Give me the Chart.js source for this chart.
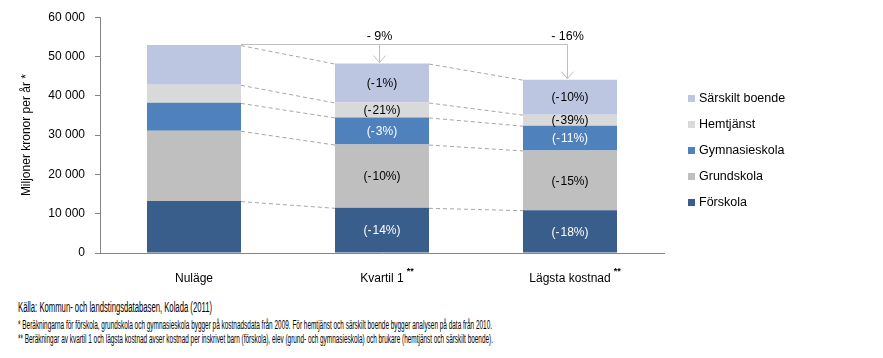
<!DOCTYPE html>
<html>
<head>
<meta charset="utf-8">
<script src="https://cdn.jsdelivr.net/npm/chart.js@4/dist/chart.umd.min.js"></script>
<style>
  html, body { margin: 0; padding: 0; background: #fff; }
  body { width: 883px; height: 358px; position: relative; overflow: hidden; font-family: "Liberation Sans", Arial, sans-serif; }
  #wrap { position: absolute; left: 0; top: 0; width: 883px; height: 292px; }
  .foot { position: absolute; left: 18px; white-space: nowrap; transform-origin: 0 50%; color: #000; line-height: 1; }
  #f1 { top: 300px; font-size: 14px; }
  #f2 { top: 319px; font-size: 12.5px; }
  #f3 { top: 333px; font-size: 12.5px; }
</style>
</head>
<body>
<div id="wrap"><canvas id="c" width="883" height="292"></canvas></div>
<div class="foot" id="f1">Källa: Kommun- och landstingsdatabasen, Kolada (2011)</div>
<div class="foot" id="f2">* Beräkningarna för förskola, grundskola och gymnasieskola  bygger på kostnadsdata från 2009. För hemtjänst och särskilt boende bygger  analysen på data från 2010.</div>
<div class="foot" id="f3">** Beräkningar av kvartil 1 och lägsta kostnad avser kostnad per inskrivet barn (förskola), elev (grund- och gymnasieskola)  och brukare (hemtjänst och särskilt boende).</div>
<script>
const categories = ['Nuläge', 'Kvartil 1', 'Lägsta kostnad'];
const categorySuffix = ['', '**', '**'];
const yTicks = [0, 10000, 20000, 30000, 40000, 50000, 60000];

const forskola = [13200, 11500, 10900];
const grundskola = [17900, 16100, 15200];
const gymnasieskola = [7100, 6900, 6300];
const hemtjanst = [4600, 3800, 2800];
const sarskiltBoende = [10100, 9900, 8900];

const forskolaLabels = ['', '(-14%)', '(-18%)'];
const grundskolaLabels = ['', '(-10%)', '(-15%)'];
const gymnasieskolaLabels = ['', '(-3%)', '(-11%)'];
const hemtjanstLabels = ['', '(-21%)', '(-39%)'];
const sarskiltLabels = ['', '(-1%)', '(-10%)'];
const totalChangeLabels = ['', '- 9%', '- 16%'];

const FONT = '"Liberation Sans", Arial, sans-serif';

const datasets = [
  { label: 'Förskola', data: forskola, backgroundColor: '#3A5E8C', segLabels: forskolaLabels, textColor: '#FFFFFF' },
  { label: 'Grundskola', data: grundskola, backgroundColor: '#BFBFBF', segLabels: grundskolaLabels, textColor: '#000000' },
  { label: 'Gymnasieskola', data: gymnasieskola, backgroundColor: '#4F81BD', segLabels: gymnasieskolaLabels, textColor: '#FFFFFF' },
  { label: 'Hemtjänst', data: hemtjanst, backgroundColor: '#D9D9D9', segLabels: hemtjanstLabels, textColor: '#000000' },
  { label: 'Särskilt boende', data: sarskiltBoende, backgroundColor: '#BCC6E0', segLabels: sarskiltLabels, textColor: '#000000' }
];

const fmt = v => String(v).replace(/\B(?=(\d{3})+(?!\d))/g, ' ');

const overlay = {
  id: 'overlay',
  beforeDatasetsDraw(chart) {
    const ctx = chart.ctx;
    const metas = chart.data.datasets.map((d, i) => chart.getDatasetMeta(i));
    ctx.save();
    ctx.strokeStyle = '#A6A6A6';
    ctx.lineWidth = 1;
    ctx.setLineDash([4, 3]);
    metas.forEach(meta => {
      for (let j = 0; j < meta.data.length - 1; j++) {
        const a = meta.data[j], b = meta.data[j + 1];
        ctx.beginPath();
        ctx.moveTo(a.x + a.width / 2, a.y + 0.5);
        ctx.lineTo(b.x - b.width / 2, b.y + 0.5);
        ctx.stroke();
      }
    });
    ctx.restore();
  },
  afterDatasetsDraw(chart) {
    const ctx = chart.ctx;
    const ds = chart.data.datasets;
    ctx.save();
    ctx.font = '12px ' + FONT;
    ctx.textAlign = 'center';
    ctx.textBaseline = 'middle';
    ds.forEach((d, i) => {
      const meta = chart.getDatasetMeta(i);
      meta.data.forEach((el, j) => {
        const t = d.segLabels[j];
        if (!t) return;
        ctx.fillStyle = d.textColor;
        ctx.fillText(t.replace('-', '-\u200A'), el.x, (el.y + el.base) / 2 + 1);
      });
    });
    // total change arrows
    const topMeta = chart.getDatasetMeta(ds.length - 1);
    const first = topMeta.data[0];
    const y0 = Math.round(first.y) - 0.5;
    const last = topMeta.data[topMeta.data.length - 1];
    ctx.strokeStyle = '#BFBFBF';
    ctx.lineWidth = 1;
    ctx.beginPath();
    ctx.moveTo(first.x + first.width / 2, y0);
    ctx.lineTo(Math.round(last.x) - 2.5, y0);
    ctx.stroke();
    ctx.fillStyle = '#000';
    ctx.font = '12.5px ' + FONT;
    ctx.textBaseline = 'alphabetic';
    topMeta.data.forEach((el, j) => {
      if (!totalChangeLabels[j]) return;
      const x = Math.round(el.x) - 2.5;
      const yEnd = el.y - 1;
      ctx.beginPath();
      ctx.moveTo(x, y0);
      ctx.lineTo(x, yEnd);
      ctx.moveTo(x - 6, yEnd - 7);
      ctx.lineTo(x, yEnd);
      ctx.lineTo(x + 6, yEnd - 7);
      ctx.stroke();
      ctx.fillText(totalChangeLabels[j], x, y0 - 5);
    });
    // superscript suffixes on category labels
    const xs = chart.scales.x;
    categories.forEach((c, j) => {
      if (!categorySuffix[j]) return;
      ctx.font = '12px ' + FONT;
      const w = ctx.measureText(c).width;
      const cx = xs.getPixelForValue(j);
      ctx.font = 'bold 9px ' + FONT;
      ctx.textAlign = 'left';
      ctx.textBaseline = 'middle';
      ctx.fillText(categorySuffix[j], cx + w / 2 + 3, xs.bottom - 20);
    });
    // legend
    const lx = 688, ly = 99, step = 26;
    for (let k = ds.length - 1, n = 0; k >= 0; k--, n++) {
      const y = ly + n * step;
      ctx.fillStyle = ds[k].backgroundColor;
      ctx.fillRect(lx, y - 4, 7, 7);
      ctx.fillStyle = '#000';
      ctx.font = '12.5px ' + FONT;
      ctx.textAlign = 'left';
      ctx.textBaseline = 'middle';
      ctx.fillText(ds[k].label, lx + 11, y);
    }
    ctx.restore();
  }
};

new Chart(document.getElementById('c'), {
  type: 'bar',
  data: { labels: categories, datasets },
  options: {
    responsive: false,
    animation: false,
    events: [],
    layout: { padding: { left: 0, right: 219, top: 16, bottom: 0 } },
    datasets: { bar: { categoryPercentage: 0.5, barPercentage: 1, borderWidth: 0 } },
    plugins: { legend: { display: false }, tooltip: { enabled: false } },
    scales: {
      x: {
        stacked: true,
        grid: { display: false },
        border: { display: true, color: '#868686', width: 1 },
        ticks: { color: '#000', font: { family: FONT, size: 12 }, padding: 10 },
        afterFit(s) { s.height = 39; }
      },
      y: {
        stacked: true,
        min: 0, max: 60000,
        afterBuildTicks(s) { s.ticks = yTicks.map(v => ({ value: v })); },
        grid: { display: true, drawOnChartArea: false, drawTicks: true, tickLength: 5, color: '#868686' },
        border: { display: true, color: '#868686', width: 1 },
        ticks: { color: '#000', font: { family: FONT, size: 12 }, padding: 10, callback: v => fmt(v) },
        title: { display: true, text: 'Miljoner kronor per år *', color: '#000', font: { family: FONT, size: 12 }, padding: { top: 19, bottom: 0 } },
        afterFit(s) { s.width = 100; }
      }
    }
  },
  plugins: [overlay]
});

const targets = { f1: 194, f2: 474, f3: 475 };
Object.keys(targets).forEach(id => {
  const el = document.getElementById(id);
  const w = el.getBoundingClientRect().width;
  el.style.transform = 'scaleX(' + (targets[id] / w) + ')';
});
</script>
</body>
</html>
